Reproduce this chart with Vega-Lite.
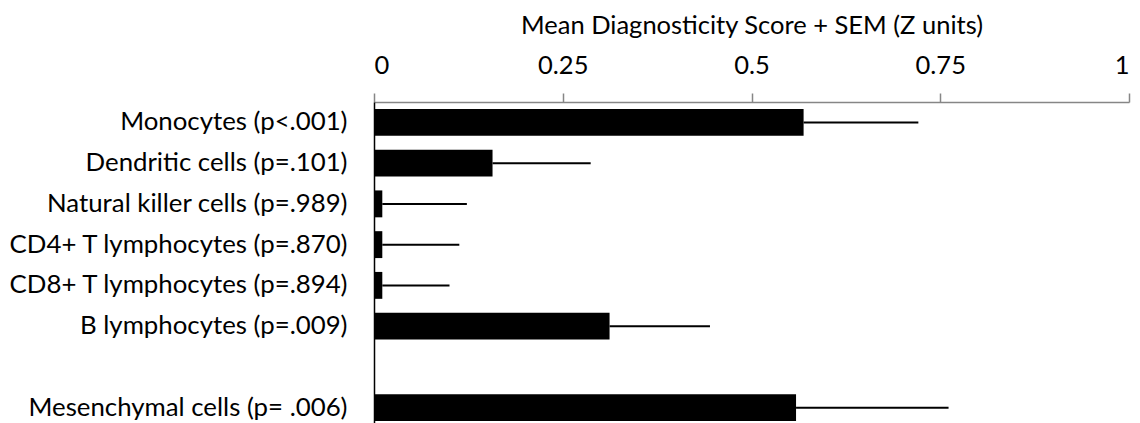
{
  "$schema": "https://vega.github.io/schema/vega-lite/v6.json",
  "autosize": {"type": "none"},
  "padding": {"left": 374, "top": 102, "right": 11, "bottom": 0},
  "width": 755,
  "height": 326,
  "background": "white",
  "config": {"view": {"stroke": null}, "font": "Lato"},
  "data": {"values": [
    {"cell": "Monocytes (p<.001)", "mean": 0.569, "upper": 0.721},
    {"cell": "Dendritic cells (p=.101)", "mean": 0.157, "upper": 0.287},
    {"cell": "Natural killer cells (p=.989)", "mean": 0.011, "upper": 0.123},
    {"cell": "CD4+ T lymphocytes (p=.870)", "mean": 0.011, "upper": 0.113},
    {"cell": "CD8+ T lymphocytes (p=.894)", "mean": 0.011, "upper": 0.100},
    {"cell": "B lymphocytes (p=.009)", "mean": 0.312, "upper": 0.445},
    {"cell": "Mesenchymal cells (p= .006)", "mean": 0.559, "upper": 0.761}
  ]},
  "encoding": {
    "y": {
      "field": "cell", "type": "nominal",
      "scale": {
        "domain": ["Monocytes (p<.001)", "Dendritic cells (p=.101)", "Natural killer cells (p=.989)", "CD4+ T lymphocytes (p=.870)", "CD8+ T lymphocytes (p=.894)", "B lymphocytes (p=.009)", " ", "Mesenchymal cells (p= .006)"],
        "paddingInner": 0.34, "paddingOuter": 0.17
      },
      "axis": {
        "title": null, "ticks": false, "tickSize": 0, "labelPadding": 27,
        "labelFont": "Lato", "labelFontSize": 25.8, "labelColor": "black",
        "domainColor": "black", "domainWidth": 1.5, "grid": false, "labelLimit": 500
      }
    }
  },
  "layer": [
    {
      "mark": {"type": "bar", "color": "black"},
      "encoding": {
        "x": {
          "field": "mean", "type": "quantitative",
          "scale": {"domain": [0, 1], "nice": false},
          "axis": {
            "orient": "top", "values": [0, 0.25, 0.5, 0.75, 1], "format": ".2~f",
            "title": "Mean Diagnosticity Score + SEM (Z units)",
            "titleFont": "Lato", "titleFontSize": 25.5, "titleFontWeight": "normal", "titleColor": "black",
            "titlePadding": 15,
            "labelFont": "Lato", "labelFontSize": 25.5, "labelColor": "black", "labelPadding": 15,
            "tickSize": 9, "tickColor": "#868686", "tickWidth": 1.5,
            "domainColor": "#868686", "domainWidth": 1.5, "grid": false
          }
        }
      }
    },
    {
      "mark": {"type": "rule", "color": "black", "strokeWidth": 2},
      "encoding": {
        "x": {"field": "mean", "type": "quantitative"},
        "x2": {"field": "upper"}
      }
    }
  ]
}
